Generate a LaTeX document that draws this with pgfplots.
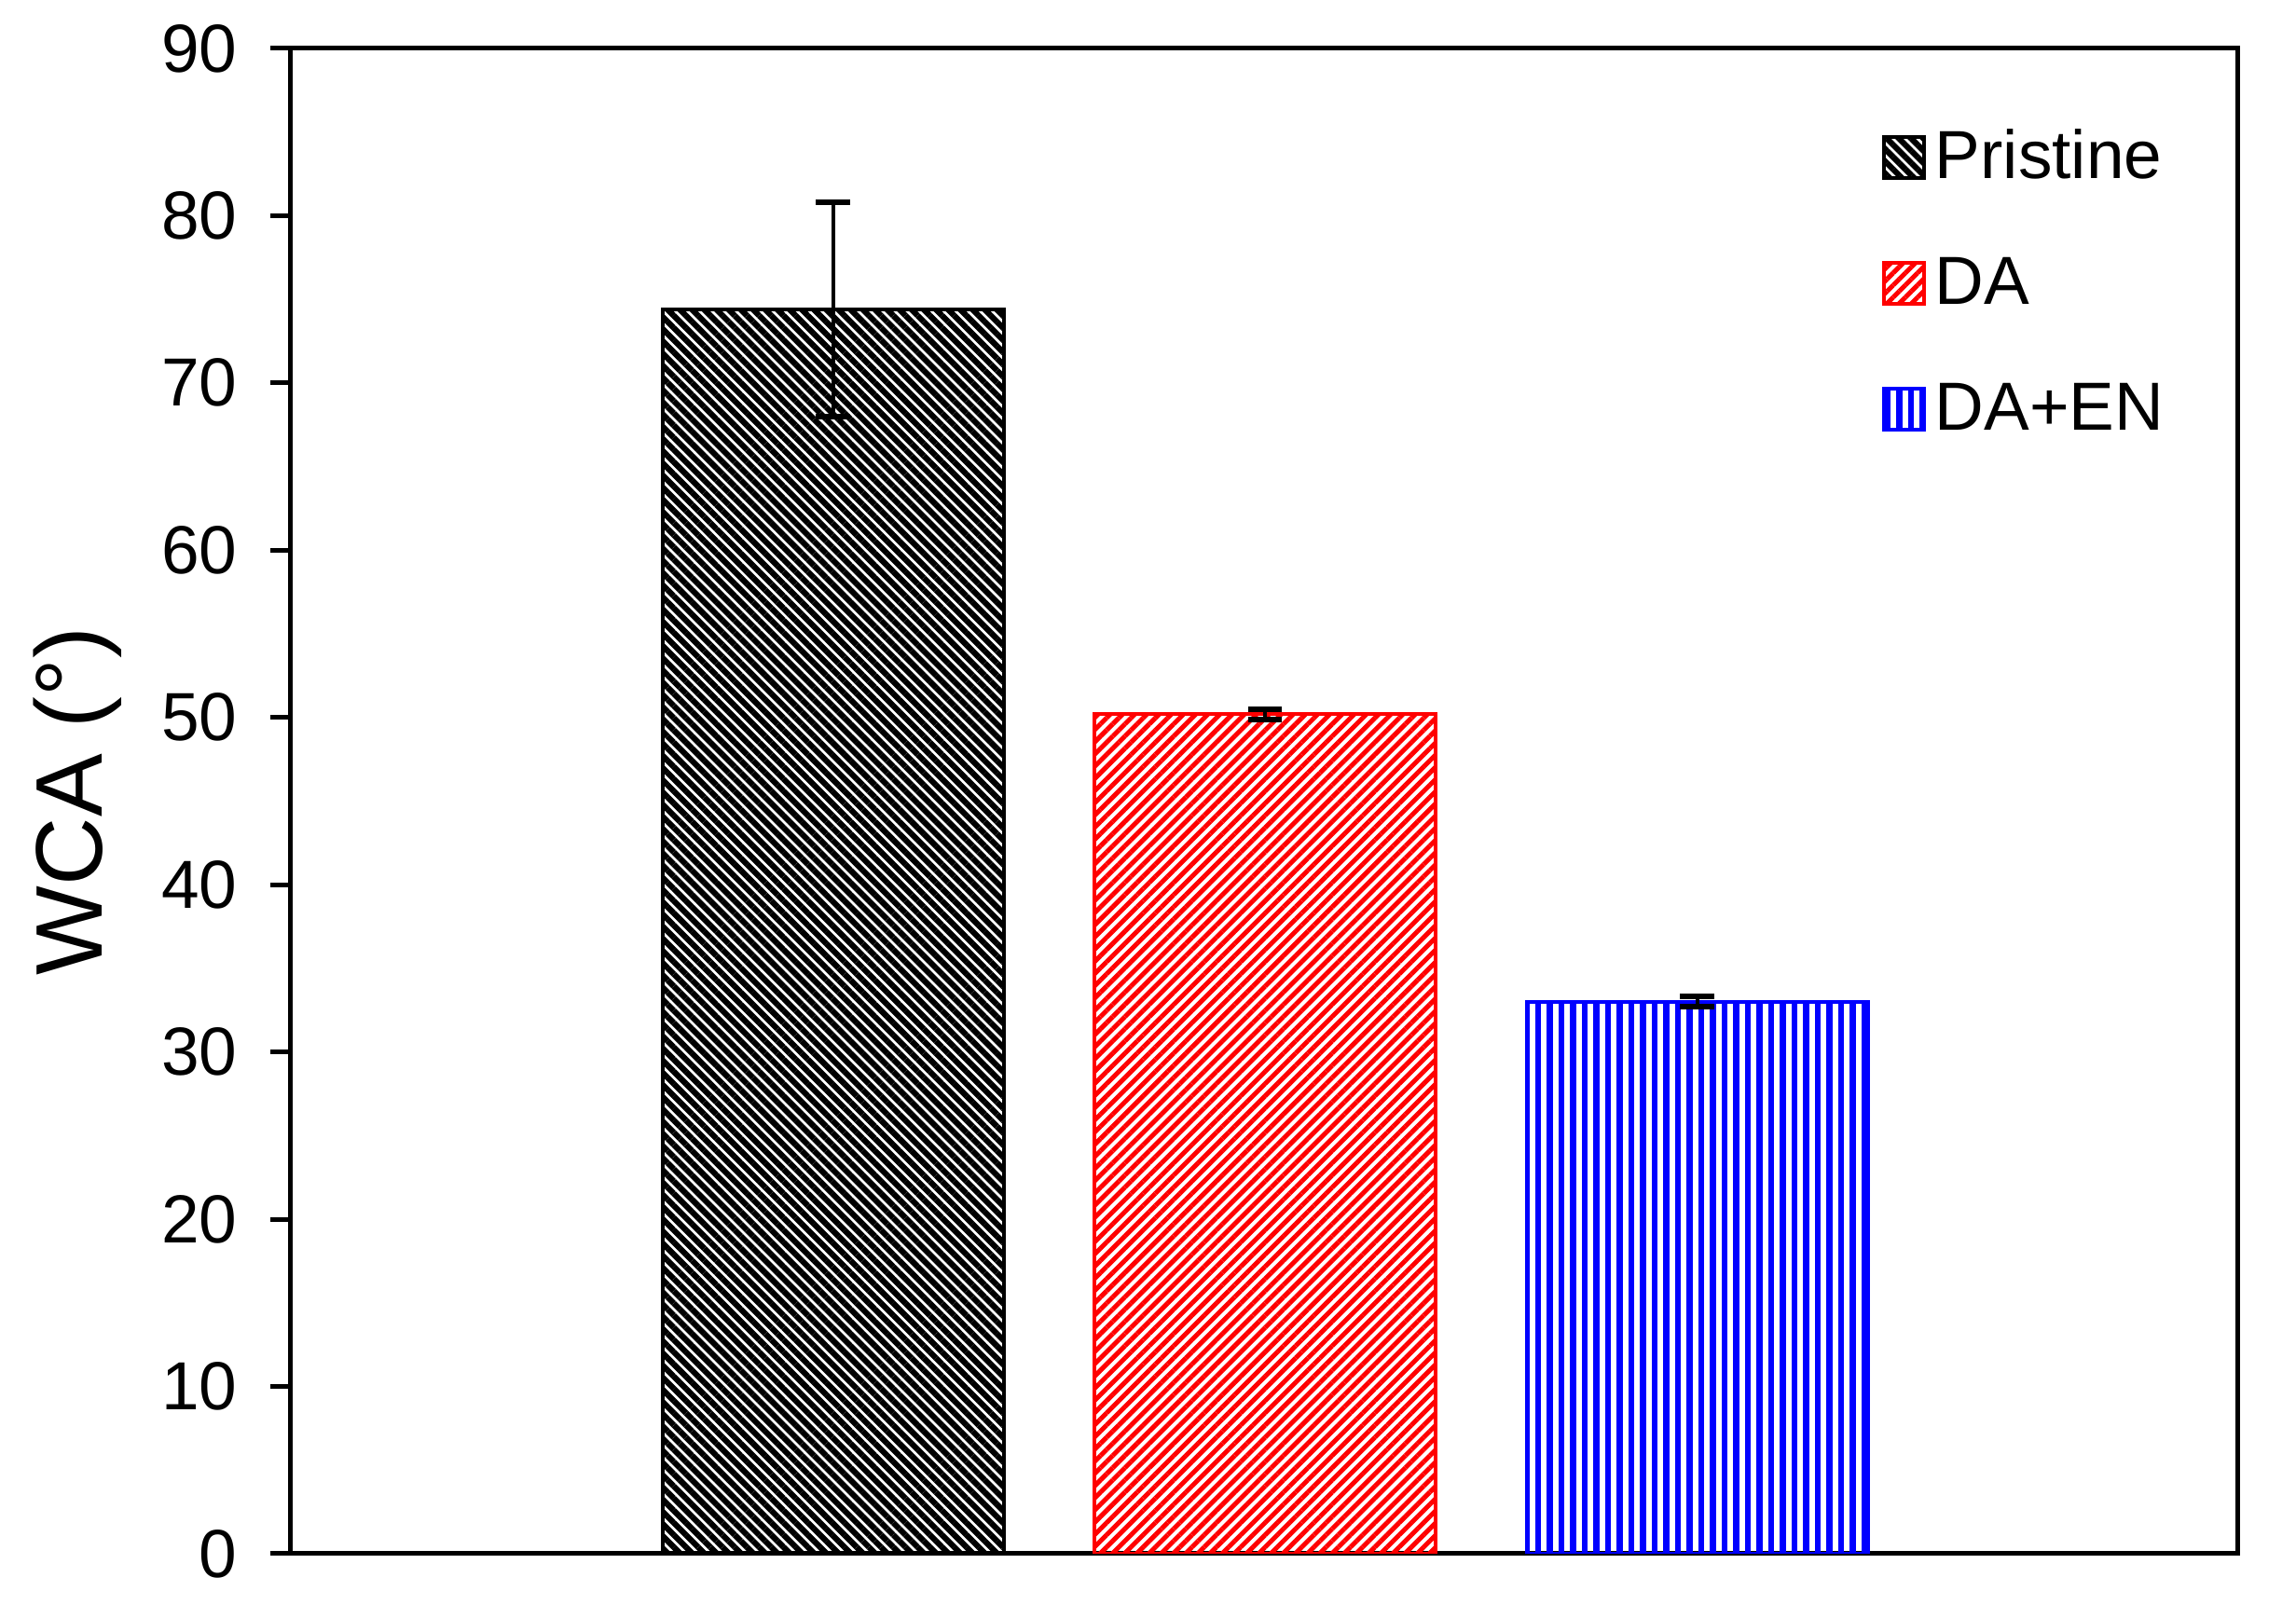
\documentclass[border=0pt]{standalone}
\usepackage{fontspec}
\setmainfont{Liberation Sans}
\usepackage{pgfplots}
\pgfplotsset{compat=1.18}
\usetikzlibrary{patterns.meta}
\pgfplotsset{mylegend/.style={legend image code/.code={\draw[##1] (0pt,-5.14pt) rectangle (8.6pt,3.66pt); \path (10.6pt,0pt);}}}
\begin{document}
\begin{tikzpicture}
\begin{axis}[
  scale only axis, width=417.6pt, height=323pt,
  xmin=-0.255, xmax=4.25, ymin=0, ymax=90,
  ytick={0,10,...,90}, xtick=\empty,
  ytick pos=left, tick align=outside, major tick length=4.4pt,
  tick style={black, line width=1pt},
  axis line style={black, line width=1pt},
  /pgf/number format/assume math mode=true,
  tick label style={font=\fontsize{14.6}{17}\selectfont},
  yticklabel style={xshift=-3.6pt},
  ylabel={WCA (°)},
  ylabel style={font=\fontsize{20.3}{24}\selectfont, at={(axis description cs:-0.1097,0.5)}, anchor=center},
  legend cell align=left,
  legend style={draw=none, fill=none, at={(rel axis cs:0.8175,0.9461)}, anchor=north west,
    inner sep=0pt, outer sep=0pt, row sep=16.17pt,
    font=\fontsize{14.6}{17}\selectfont,
    nodes={inner sep=0pt, outer sep=0pt, text height=10.5pt, text depth=0pt}},
  error bars/error bar style={black, line width=0.8pt, solid},
  error bars/error mark options={rotate=90, black, mark size=3.65pt, line width=1.2pt, solid},
]
\addplot[ybar, bar width=0.79, bar shift=0pt, mark=none, draw=black, line width=0.8pt,
  pattern={Lines[angle=-45,distance=1.85pt,line width=1.25pt]}, pattern color=black,
  mylegend,
  error bars/.cd, y dir=both, y explicit]
  coordinates {(1,74.4) +- (0,6.4)};
\addlegendentry{Pristine}
\addplot[ybar, bar width=0.79, bar shift=0pt, mark=none, draw=red, line width=0.8pt,
  pattern={Lines[angle=45,distance=1.85pt,line width=1.0pt]}, pattern color=red,
  mylegend,
  error bars/.cd, y dir=both, y explicit]
  coordinates {(2,50.2) +- (0,0.3)};
\addlegendentry{DA}
\addplot[ybar, bar width=0.79, bar shift=0pt, mark=none, draw=blue, line width=0.8pt,
  pattern={Lines[angle=90,distance=2.5pt,line width=1.3pt]}, pattern color=blue,
  mylegend,
  error bars/.cd, y dir=both, y explicit]
  coordinates {(3,33.0) +- (0,0.3)};
\addlegendentry{DA+EN}
\coordinate (sw) at (rel axis cs:0,0);
\coordinate (ne) at (rel axis cs:1,1);
\end{axis}
\pgfresetboundingbox
\path ([shift={(-62.4pt,-11pt)}]sw) rectangle ([shift={(12.6pt,10.4pt)}]ne);
\end{tikzpicture}
\end{document}
